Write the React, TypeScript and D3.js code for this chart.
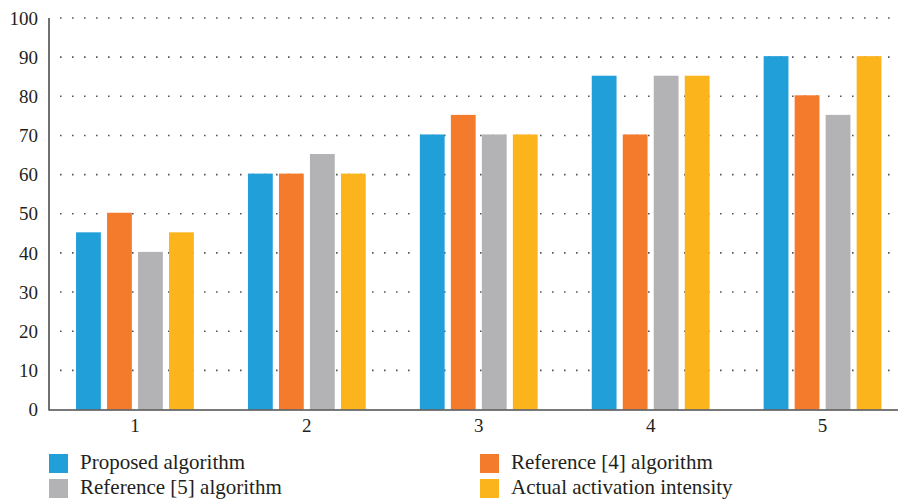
import React, { useRef, useEffect } from 'react';
import * as d3 from 'd3';

const categories = ['1', '2', '3', '4', '5'];
const seriesNames = [
    'Proposed algorithm',
    'Reference [4] algorithm',
    'Reference [5] algorithm',
    'Actual activation intensity',
];
const proposed = [45, 60, 70, 85, 90];
const reference4 = [50, 60, 75, 70, 80];
const reference5 = [40, 65, 70, 85, 75];
const actual = [45, 60, 70, 85, 90];
const yTicks = [0, 10, 20, 30, 40, 50, 60, 70, 80, 90, 100];

const colors = ['#219fd8', '#f47b2c', '#b3b3b6', '#fcb41c'];

const width = 898;
const height = 502;

const App: React.FC = () => {
    const svgRef = useRef<SVGSVGElement>(null);

    useEffect(() => {
        if (!svgRef.current) return;
        const svg = d3.select(svgRef.current);
        svg.selectAll('*').remove();

        const values = [proposed, reference4, reference5, actual];
        const left = 49;
        const font = "'Liberation Serif', 'DejaVu Serif', serif";
        const textColor = '#231f20';

        const x = d3.scaleBand<string>()
            .domain(categories)
            .range([left, left + 5 * 171.9])
            .padding(0);

        const inner = d3.scaleBand<string>()
            .domain(seriesNames)
            .range([0, 124])
            .paddingInner(0.2)
            .paddingOuter(0.1);

        const y = d3.scaleLinear()
            .domain([0, 100])
            .range([409.5, 18]);

        // dotted gridlines (behind bars)
        svg.append('g')
            .selectAll('line')
            .data(yTicks.filter(t => t > 0))
            .join('line')
            .attr('x1', 60)
            .attr('x2', width)
            .attr('y1', d => y(d))
            .attr('y2', d => y(d))
            .attr('stroke', '#555')
            .attr('stroke-width', 1.6)
            .attr('stroke-dasharray', '1.6 10.4');

        // bars
        seriesNames.forEach((name, si) => {
            svg.append('g')
                .selectAll('rect')
                .data(categories)
                .join('rect')
                .attr('x', (c) => (x(c)! + x.bandwidth() / 2 - 62) + inner(name)!)
                .attr('y', (c, i) => y(values[si][i]) - 1)
                .attr('width', inner.bandwidth())
                .attr('height', (c, i) => y(0) - y(values[si][i]) + 1)
                .attr('fill', colors[si]);
        });

        // axis lines
        svg.append('line')
            .attr('x1', left).attr('x2', left)
            .attr('y1', y(100)).attr('y2', y(0) + 1)
            .attr('stroke', '#4d4d4f').attr('stroke-width', 1.6);
        svg.append('line')
            .attr('x1', left).attr('x2', width)
            .attr('y1', y(0) + 0.5).attr('y2', y(0) + 0.5)
            .attr('stroke', '#4d4d4f').attr('stroke-width', 1.6);

        // y tick labels
        svg.append('g')
            .selectAll('text')
            .data(yTicks)
            .join('text')
            .attr('x', 38)
            .attr('y', d => y(d))
            .attr('dy', '0.35em')
            .attr('text-anchor', 'end')
            .attr('font-family', font)
            .attr('font-size', 19)
            .attr('fill', textColor)
            .text(d => d);

        // x tick labels
        svg.append('g')
            .selectAll('text')
            .data(categories)
            .join('text')
            .attr('x', c => x(c)! + x.bandwidth() / 2)
            .attr('y', 432)
            .attr('text-anchor', 'middle')
            .attr('font-family', font)
            .attr('font-size', 19)
            .attr('fill', textColor)
            .text(c => c);

        // legend, two columns
        const legendPos = [
            { x: 49, y: 454 },
            { x: 480, y: 454 },
            { x: 49, y: 479 },
            { x: 480, y: 479 },
        ];
        const lg = svg.append('g');
        seriesNames.forEach((name, si) => {
            const p = legendPos[si];
            lg.append('rect')
                .attr('x', p.x)
                .attr('y', p.y)
                .attr('width', 19)
                .attr('height', 19)
                .attr('fill', colors[si]);
            lg.append('text')
                .attr('x', p.x + 31)
                .attr('y', p.y + 15)
                .attr('font-family', font)
                .attr('font-size', 21)
                .attr('fill', textColor)
                .text(name);
        });
    }, []);

    return (
        <svg
            ref={svgRef}
            width={width}
            height={height}
            viewBox={`0 0 ${width} ${height}`}
            style={{ position: 'absolute', left: 0, top: 0, background: '#fff' }}
        />
    );
};

export default App;
